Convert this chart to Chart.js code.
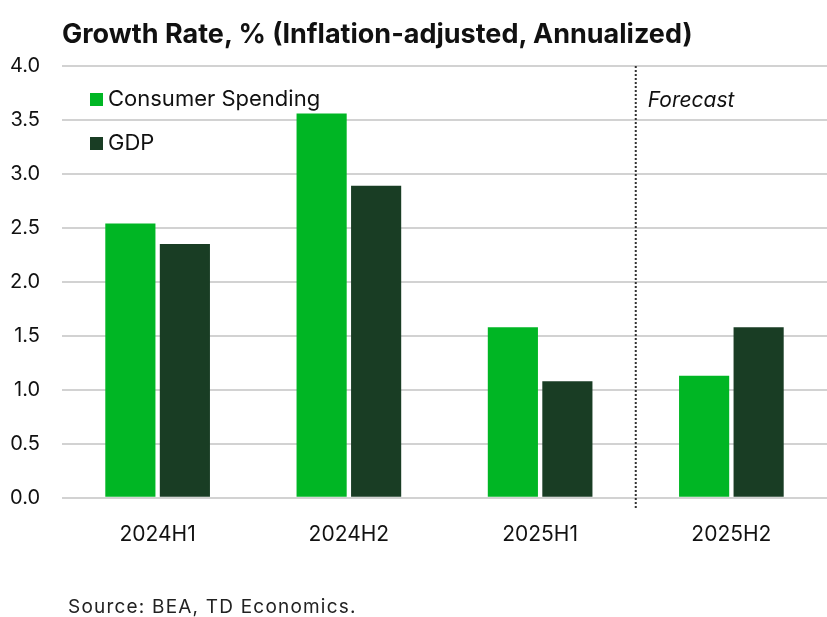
<!DOCTYPE html>
<html>
<head>
<meta charset="utf-8">
<script src="https://cdn.jsdelivr.net/npm/chart.js@4.4.1/dist/chart.umd.min.js"></script>
<style>
  body { margin: 0; background: #fff; }
  #wrap { position: relative; width: 827px; height: 617px; font-family: Inter, "Noto Sans", sans-serif; }
  #title { position: absolute; left: 62px; top: 17px; font-size: 27px; font-weight: 700; color: #111; }
  #source { position: absolute; left: 68px; top: 595px; font-size: 19px; color: #222; letter-spacing: 1.2px; }
  canvas { position: absolute; left: 0; top: 0; }
</style>
</head>
<body>
<div id="wrap">
  <canvas id="growth" width="827" height="617"></canvas>
  <div id="title">Growth Rate, % (Inflation-adjusted, Annualized)</div>
  <div id="source">Source: BEA, TD Economics.</div>
</div>
<script>
// Data
const periods = ["2024H1", "2024H2", "2025H1", "2025H2"];
const consumerSpending = [2.54, 3.56, 1.58, 1.13];
const gdp = [2.35, 2.89, 1.08, 1.58];
const seriesNames = ["Consumer Spending", "GDP"];
const forecastLabel = "Forecast";
const forecastStart = "2025H2";

const fontFamily = 'Inter, "Noto Sans", sans-serif';

// Legend drawn inside the plot area, top left
const insideLegend = {
  id: "insideLegend",
  afterDraw(chart) {
    const ctx = chart.ctx;
    const left = chart.chartArea.left;
    const top = chart.chartArea.top;
    ctx.save();
    ctx.font = "22px " + fontFamily;
    ctx.textBaseline = "middle";
    chart.data.datasets.forEach((ds, i) => {
      const y = top + 33 + i * 44;
      ctx.fillStyle = ds.backgroundColor;
      ctx.fillRect(left + 28, y - 6, 13, 13);
      ctx.fillStyle = "#111";
      ctx.fillText(ds.label, left + 46, y);
    });
    ctx.restore();
  }
};

// Dotted separator before the forecast period
const forecastLine = {
  id: "forecastLine",
  afterDatasetsDraw(chart) {
    const ctx = chart.ctx;
    const x = chart.scales.x;
    const idx = periods.indexOf(forecastStart);
    const xPos = (x.getPixelForValue(idx - 1) + x.getPixelForValue(idx)) / 2;
    ctx.save();
    ctx.strokeStyle = "#333";
    ctx.lineWidth = 2;
    ctx.setLineDash([2, 2]);
    ctx.beginPath();
    ctx.moveTo(xPos, chart.chartArea.top);
    ctx.lineTo(xPos, chart.chartArea.bottom + 12);
    ctx.stroke();
    ctx.setLineDash([]);
    ctx.font = "italic 21px " + fontFamily;
    ctx.fillStyle = "#111";
    ctx.textBaseline = "middle";
    ctx.fillText(forecastLabel, xPos + 12, chart.chartArea.top + 35);
    ctx.restore();
  }
};

const ctx = document.getElementById("growth").getContext("2d");
new Chart(ctx, {
  type: "bar",
  data: {
    labels: periods,
    datasets: [
      {
        label: seriesNames[0],
        data: consumerSpending,
        backgroundColor: "#00B624",
        categoryPercentage: 0.57,
        barPercentage: 0.92
      },
      {
        label: seriesNames[1],
        data: gdp,
        backgroundColor: "#193D24",
        categoryPercentage: 0.57,
        barPercentage: 0.92
      }
    ]
  },
  options: {
    responsive: false,
    animation: false,
    layout: { padding: { top: 66, left: 9, right: 0, bottom: 54 } },
    plugins: {
      legend: { display: false },
      tooltip: { enabled: false }
    },
    scales: {
      x: {
        grid: { display: false },
        border: { display: false },
        ticks: { color: "#111", font: { family: fontFamily, size: 21 }, padding: 16 }
      },
      y: {
        min: 0,
        max: 4,
        grid: { color: "#d2d2d2", lineWidth: 2, drawTicks: false },
        border: { display: false },
        afterFit: (scale) => { scale.width = 53; },
        ticks: {
          stepSize: 0.5,
          color: "#111",
          padding: 22,
          font: { family: fontFamily, size: 20 },
          callback: (v) => Number(v).toFixed(1)
        }
      }
    }
  },
  plugins: [insideLegend, forecastLine]
});
</script>
</body>
</html>
